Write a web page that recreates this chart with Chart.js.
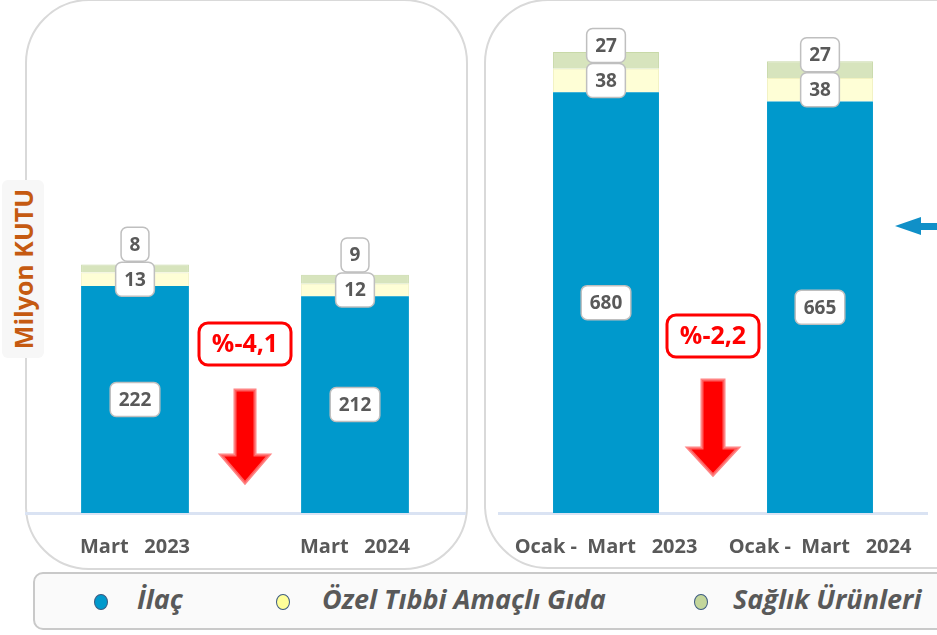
<!DOCTYPE html>
<html>
<head>
<meta charset="utf-8">
<script src="https://cdn.jsdelivr.net/npm/chart.js@4.4.1/dist/chart.umd.min.js"></script>
<style>
  body { margin: 0; width: 937px; height: 635px; overflow: hidden; background: #fff; position: relative; font-family: "Open Sans", sans-serif; }
  .panel { position: absolute; box-sizing: border-box; border: 2px solid #d9d9d9; border-radius: 64px; background: #fff; }
  .chartBox { position: absolute; top: 0; height: 570px; }
  #yTitle { position: absolute; left: 2px; top: 180px; width: 42px; height: 178px; background: #f7f7f7; border-radius: 6px; }
  #yTitle span { position: absolute; left: 50%; top: 50%; transform: translate(-50%, -50%) rotate(-90deg); white-space: nowrap; color: #c55a11; font-weight: bold; font-size: 25px; }
  #legend { position: absolute; left: 33px; top: 572px; width: 960px; height: 58px; box-sizing: border-box; border: 2px solid #c9c9c9; border-radius: 10px; background: #fafafa; }
  .lg { position: absolute; top: 7px; font-style: italic; font-weight: bold; font-size: 27px; line-height: 36px; color: #595959; white-space: nowrap; }
  .mk { position: absolute; top: 20px; width: 14px; height: 16px; border-radius: 50%; box-sizing: border-box; border: 1.5px solid #3b5a80; }
</style>
</head>
<body>
<div class="panel" style="left:25px; top:-1px; width:443px; height:571px;"></div>
<div class="panel" style="left:484px; top:-1px; width:520px; height:570px;"></div>
<div class="chartBox" style="left:25px; width:442px;"><canvas id="c1"></canvas></div>
<div class="chartBox" style="left:485px; width:452px;"><canvas id="c2"></canvas></div>
<div id="yTitle"><span>Milyon KUTU</span></div>
<div id="legend"></div>
<script>
// series names and colours
const seriesNames = ['İlaç', 'Özel Tıbbi Amaçlı Gıda', 'Sağlık Ürünleri']
const seriesColors = ['#0099cc', '#fefed6', '#d7e4bd']

// monthly (Mart)
const monthLabels = ['Mart   2023', 'Mart   2024']
const monthIlac = [222, 212]
const monthOzel = [13, 12]
const monthSaglik = [8, 9]
const monthChange = '%-4,1'

// quarterly (Ocak - Mart)
const quarterLabels = ['Ocak -  Mart   2023', 'Ocak -  Mart   2024']
const quarterIlac = [680, 665]
const quarterOzel = [38, 38]
const quarterSaglik = [27, 27]
const quarterChange = '%-2,2'

function roundRect(ctx, x, y, w, h, r) {
  ctx.beginPath()
  ctx.moveTo(x + r, y)
  ctx.arcTo(x + w, y, x + w, y + h, r)
  ctx.arcTo(x + w, y + h, x, y + h, r)
  ctx.arcTo(x, y + h, x, y, r)
  ctx.arcTo(x, y, x + w, y, r)
  ctx.closePath()
}

// white rounded boxes with the segment value, stacked upward when they would overlap
const boxLabels = {
  id: 'boxLabels',
  afterDatasetsDraw(chart) {
    const ctx = chart.ctx
    ctx.save()
    ctx.font = 'bold 19px "Open Sans"'
    ctx.textAlign = 'center'
    ctx.textBaseline = 'middle'
    chart.data.labels.forEach((_, i) => {
      let prevY = null
      chart.data.datasets.forEach((ds, d) => {
        const el = chart.getDatasetMeta(d).data[i]
        let y = (el.y + el.base) / 2
        if (prevY !== null && prevY - y < 35) y = prevY - 35
        const txt = String(ds.data[i])
        const w = ctx.measureText(txt).width + 17
        roundRect(ctx, el.x - w / 2, y - 17, w, 34, 6)
        ctx.fillStyle = '#fff'
        ctx.fill()
        ctx.lineWidth = 1.5
        ctx.strokeStyle = '#bfbfbf'
        ctx.stroke()
        ctx.fillStyle = '#595959'
        ctx.fillText(txt, el.x, y + 1)
        prevY = y
      })
    })
    ctx.restore()
  }
}

// percentage change box and red down arrow between the two bars
const changeNote = {
  id: 'changeNote',
  afterDraw(chart, args, o) {
    if (!o.text) return
    const ctx = chart.ctx
    const m = chart.getDatasetMeta(0).data
    const cx = (m[0].x + m[1].x) / 2
    ctx.save()
    ctx.font = 'bold 25px "Open Sans"'
    ctx.textAlign = 'center'
    ctx.textBaseline = 'middle'
    roundRect(ctx, cx - 46, o.boxY - 21, 92, 42, 9)
    ctx.fillStyle = '#fff'
    ctx.fill()
    ctx.lineWidth = 3
    ctx.strokeStyle = '#ff0000'
    ctx.stroke()
    ctx.fillStyle = '#ff0000'
    ctx.fillText(o.text, cx, o.boxY + 1)

    const sw = o.shaftW / 2, hw = o.headW / 2
    ctx.beginPath()
    ctx.moveTo(cx - sw, o.top)
    ctx.lineTo(cx + sw, o.top)
    ctx.lineTo(cx + sw, o.headY)
    ctx.lineTo(cx + hw, o.headY)
    ctx.lineTo(cx, o.tipY)
    ctx.lineTo(cx - hw, o.headY)
    ctx.lineTo(cx - sw, o.headY)
    ctx.closePath()
    ctx.fillStyle = '#ff0000'
    ctx.fill()
    ctx.lineWidth = 3
    ctx.lineJoin = 'miter'
    ctx.strokeStyle = 'rgba(255,110,110,0.85)'
    ctx.stroke()

    if (o.blueArrow) {
      const b = o.blueArrow
      ctx.beginPath()
      ctx.moveTo(b.x, b.y)
      ctx.lineTo(b.x + 26, b.y - 9)
      ctx.lineTo(b.x + 26, b.y - 3)
      ctx.lineTo(chart.width + 5, b.y - 3)
      ctx.lineTo(chart.width + 5, b.y + 4)
      ctx.lineTo(b.x + 26, b.y + 4)
      ctx.lineTo(b.x + 26, b.y + 9)
      ctx.closePath()
      ctx.fillStyle = '#1090c8'
      ctx.fill()
    }
    ctx.restore()
  }
}

function makeChart(id, labels, ilac, ozel, saglik, opts) {
  const values = [ilac, ozel, saglik]
  return new Chart(document.getElementById(id), {
    type: 'bar',
    data: {
      labels: labels,
      datasets: values.map((v, k) => ({
        label: seriesNames[k],
        data: v,
        backgroundColor: seriesColors[k],
        borderColor: k === 0 ? seriesColors[k] : (k === 1 ? '#f2f2c0' : '#c8d9a8'),
        borderWidth: k === 0 ? 0 : 1,
        categoryPercentage: 1,
        barPercentage: opts.barPct
      }))
    },
    options: {
      responsive: true,
      maintainAspectRatio: false,
      animation: false,
      layout: { padding: opts.padding },
      scales: {
        x: {
          stacked: true,
          grid: { display: false },
          border: { display: true, color: '#dae3f3', width: 3 },
          ticks: { color: '#595959', font: { family: 'Open Sans', size: 20, weight: 'bold' }, padding: 14 },
          afterFit: (axis) => { axis.height = 57 }
        },
        y: { stacked: true, display: false, min: 0, max: opts.max }
      },
      plugins: {
        legend: { display: false },
        tooltip: { enabled: false },
        changeNote: opts.note
      }
    },
    plugins: [boxLabels, changeNote]
  })
}

makeChart('c1', monthLabels, monthIlac, monthOzel, monthSaglik, {
  barPct: 0.49, max: 480,
  padding: { top: 22, left: 0, right: 2, bottom: 0 },
  note: { text: monthChange, boxY: 344, top: 390, headY: 455, tipY: 483, shaftW: 20, headW: 48 }
})

makeChart('c2', quarterLabels, quarterIlac, quarterOzel, quarterSaglik, {
  barPct: 0.495, max: 800,
  padding: { top: 18, left: 14, right: 10, bottom: 0 },
  note: { text: quarterChange, boxY: 336, top: 380, headY: 448, tipY: 475, shaftW: 22, headW: 50, blueArrow: { x: 410, y: 226 } }
})

// legend
const legend = document.getElementById('legend')
const mkX = [59, 241, 659]
const txtX = [102, 287, 698]
seriesNames.forEach((name, k) => {
  const mk = document.createElement('div')
  mk.className = 'mk'
  mk.style.left = mkX[k] + 'px'
  mk.style.background = k === 1 ? '#ffff99' : (k === 2 ? '#c3d69b' : seriesColors[0])
  legend.appendChild(mk)
  const t = document.createElement('div')
  t.className = 'lg'
  t.style.left = txtX[k] + 'px'
  t.textContent = name
  legend.appendChild(t)
})
</script>
</body>
</html>
